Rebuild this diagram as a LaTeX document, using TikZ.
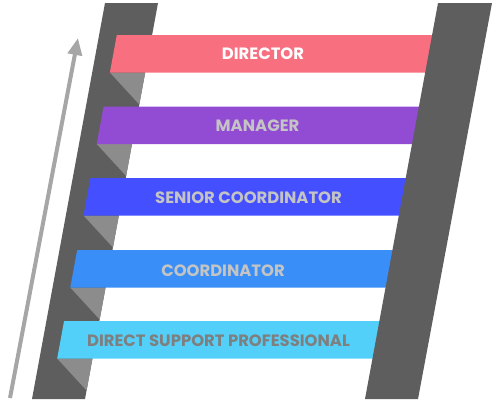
\documentclass[tikz,border=0pt]{standalone}
\usepackage{fontspec}
\setmainfont{Poppins}
\usetikzlibrary{arrows.meta}
\definecolor{railgray}{HTML}{5E5E5E}
\definecolor{shadegray}{HTML}{8C8C8C}
\definecolor{arrowgray}{HTML}{A6A6A6}
\definecolor{cDir}{HTML}{F87080}
\definecolor{cMan}{HTML}{924CD4}
\definecolor{cSen}{HTML}{4450FF}
\definecolor{cCoo}{HTML}{398FF7}
\definecolor{cDsp}{HTML}{52D0FA}
\definecolor{tLight}{HTML}{C4C4C4}
\definecolor{tDark}{HTML}{7F7F7F}
\tikzset{
  rail/.style={fill=railgray, draw=none},
  shade/.style={fill=shadegray, draw=none},
  bar/.style={draw=none},
  label/.style={font=\bfseries\fontsize{16.4}{17}\selectfont, inner sep=0pt, anchor=center, text depth=0pt},
  climb/.style={draw=arrowgray, line width=4pt, -{Triangle[length=17pt,width=14pt]}}
}
\begin{document}
\begin{tikzpicture}[x=1pt,y=-1pt]
\useasboundingbox (0,0) rectangle (497,405);
\def\s{0.1843}
% rails
\fill[rail] (105,3) -- (158,3) -- (85,399) -- (32,399) -- cycle;
% shadow triangles and bars
\foreach \yt/\col in {35/cDir,106.5/cMan,178/cSen,250/cCoo,321/cDsp}{
  \pgfmathsetmacro{\yb}{\yt+37.5}
  \pgfmathsetmacro{\ys}{\yb+32}
  \pgfmathsetmacro{\xlt}{105-\s*(\yt-3)+17.7}
  \pgfmathsetmacro{\xlb}{105-\s*(\yb-3)+17.7}
  \pgfmathsetmacro{\xrb}{158-\s*(\yb-3)}
  \pgfmathsetmacro{\xrs}{158-\s*(\ys-3)}
  \pgfmathsetmacro{\xbt}{438-\s*(\yt-3)+6}
  \pgfmathsetmacro{\xbb}{438-\s*(\yb-3)+6}
  \fill[shade] (\xlb,\yb) -- (\xrb,\yb) -- (\xrs,\ys) -- cycle;
  \fill[bar, fill=\col] (\xlt,\yt) -- (\xbt,\yt) -- (\xbb,\yb) -- (\xlb,\yb) -- cycle;
}
\fill[rail] (438,3) -- (492,3) -- (418,399) -- (365,399) -- cycle;
% labels
\node[label, text=white]  (dir) at (263,53.5)   {DIRECTOR};
\node[label, text=tLight] (man) at (257.5,125.5) {MANAGER};
\node[label, text=tLight] (sen) at (248.5,197.5) {SENIOR COORDINATOR};
\node[label, text=tLight] (coo) at (223,271)    {COORDINATOR};
\node[label, text=tDark]  (dsp) at (218.5,340.5) {DIRECT SUPPORT PROFESSIONAL};
% arrow
\coordinate (abot) at (10,398);
\coordinate (atop) at (78,38);
\draw[climb] (abot) -- (atop);
\end{tikzpicture}
\end{document}
